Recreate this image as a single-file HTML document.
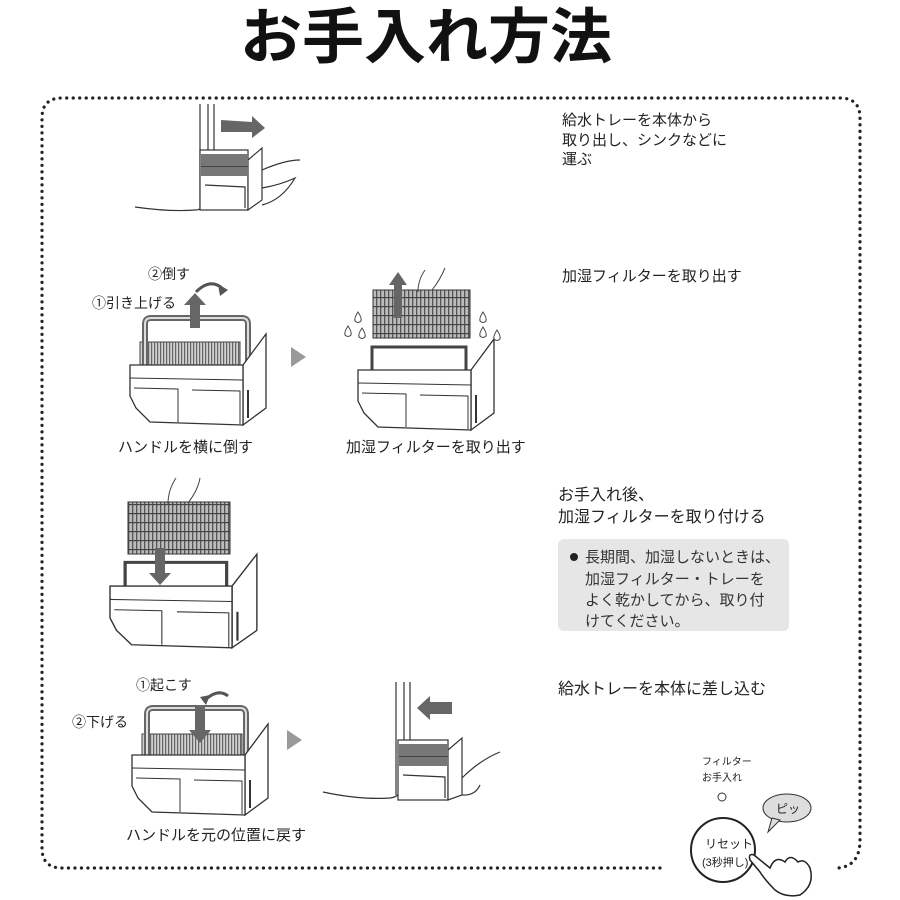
<!DOCTYPE html>
<html><head><meta charset="utf-8"><style>
html,body{margin:0;padding:0;background:#fff;width:900px;height:900px;overflow:hidden}
svg{display:block}
text{font-family:"Liberation Sans","Noto Sans CJK JP",sans-serif;fill:#222}
</style></head><body>
<svg width="900" height="900" viewBox="0 0 900 900" xmlns="http://www.w3.org/2000/svg">
<defs>
<pattern id="st" width="3" height="6" patternUnits="userSpaceOnUse">
<rect width="3" height="6" fill="#d0d0d0"/><rect width="1.2" height="6" fill="#666"/>
</pattern>
<pattern id="grid" width="4" height="9" patternUnits="userSpaceOnUse">
<rect width="4" height="9" fill="#bbb"/><rect width="1.3" height="9" fill="#555"/><rect width="4" height="1.2" fill="#444"/>
</pattern>
<g id="body">
<polygon points="113,35 136,4 136,78 113,95" fill="#fff" stroke="#333" stroke-width="1.3"/>
<line x1="118" y1="60" x2="118" y2="88" stroke="#333" stroke-width="2"/>
<path d="M0,35 L113,35 L113,95 L20,92 L6,78 L0,66 Z" fill="#fff" stroke="#333" stroke-width="1.3"/>
<line x1="0" y1="48" x2="113" y2="50" stroke="#333" stroke-width="1"/>
<path d="M4,58 L48,59 L48,92 M62,60 L110,61 L110,94" fill="none" stroke="#333" stroke-width="1"/>
</g>
<g id="drop"><path d="M0,0 Q-4,6 -3,9 Q0,12 3,9 Q4,6 0,0 Z" fill="#fff" stroke="#444" stroke-width="1"/></g>
</defs>

<text x="426" y="58" text-anchor="middle" font-size="60" font-weight="bold" style="fill:#111" textLength="372" lengthAdjust="spacingAndGlyphs">お手入れ方法</text>

<!-- dotted border -->
<path d="M660,868 L62,868 Q42,868 42,848 L42,118 Q42,98 62,98 L840,98 Q860,98 860,118 L860,840 Q860,866 838,868" fill="none" stroke="#222" stroke-width="3.2" stroke-dasharray="0.1 6.4" stroke-linecap="round"/>

<!-- step1 appliance -->
<g stroke="#333" stroke-width="1.2" fill="none">
<path d="M200,104 L200,207 M208,104 L208,150 M214,104 L214,150"/>
<path d="M135,207 Q170,212 195,210 Q205,210 205,198"/>
<rect x="200" y="150" width="48" height="60" fill="#fff"/>
<polygon points="248,160 262,148 262,200 248,210" fill="#fff"/>
<path d="M205,185 L245,187 L245,208 M262,170 Q285,160 300,160 M262,188 Q280,185 295,178 Q282,200 262,205"/>
</g>
<rect x="201" y="154" width="47" height="22" fill="#777"/>
<rect x="201" y="166" width="47" height="1" fill="#444"/>
<polygon points="221,120 252,122 252,116 265,128 252,138 252,132 221,132" fill="#666"/>

<text x="562" y="125" font-size="15">給水トレーを本体から</text>
<text x="562" y="145" font-size="15">取り出し、シンクなどに</text>
<text x="562" y="164" font-size="15">運ぶ</text>

<!-- tray 1 -->
<g transform="translate(130,330)">
<rect x="10" y="12" width="100" height="28" fill="url(#st)" stroke="#444"/>
<path d="M15,35 L15,-6 Q15,-12 21,-12 L112,-12 Q118,-12 118,-6 L118,35" fill="none" stroke="#666" stroke-width="6"/>
<path d="M15,35 L15,-6 Q15,-12 21,-12 L112,-12 Q118,-12 118,-6 L118,35" fill="none" stroke="#ddd" stroke-width="2"/>
<use href="#body"/>
</g>
<polygon points="190,328 190,305 184,305 195,293 206,305 200,305 200,328" fill="#666"/>
<path d="M196,292 Q210,278 222,288" fill="none" stroke="#555" stroke-width="3"/>
<polygon points="218,284 228,290 220,296" fill="#555"/>
<text x="148" y="279" font-size="14">②倒す</text>
<text x="92" y="308" font-size="14">①引き上げる</text>
<polygon points="291,347 306,357 291,367" fill="#999"/>
<text x="118" y="452" font-size="15">ハンドルを横に倒す</text>

<!-- tray 2 -->
<g transform="translate(358,335)">
<path d="M14,35 L14,12 L108,12 L108,35" fill="none" stroke="#444" stroke-width="3"/>
<use href="#body"/>
</g>
<rect x="373" y="290" width="97" height="48" fill="url(#grid)" stroke="#333"/>
<path d="M418,292 Q418,280 425,270 M432,290 Q440,280 445,268" fill="none" stroke="#444"/>
<polygon points="394,318 394,285 389,285 398,272 407,285 402,285 402,318" fill="#666"/>
<use href="#drop" x="358" y="312"/><use href="#drop" x="348" y="326"/><use href="#drop" x="362" y="328"/>
<use href="#drop" x="483" y="312"/><use href="#drop" x="483" y="327"/><use href="#drop" x="497" y="330"/>
<text x="346" y="452" font-size="15">加湿フィルターを取り出す</text>

<text x="562" y="281" font-size="15">加湿フィルターを取り出す</text>

<!-- tray 3 -->
<g transform="translate(110,550) scale(1.08,1.03)">
<path d="M14,35 L14,12 L108,12 L108,35" fill="none" stroke="#444" stroke-width="3"/>
<use href="#body"/>
</g>
<rect x="128" y="502" width="102" height="52" fill="url(#grid)" stroke="#333"/>
<path d="M168,504 Q168,490 176,478 M188,503 Q198,490 200,478" fill="none" stroke="#444"/>
<polygon points="155,548 155,573 149,573 160,585 171,573 165,573 165,548" fill="#666"/>

<text x="558" y="500" font-size="16">お手入れ後、</text>
<text x="558" y="522" font-size="16">加湿フィルターを取り付ける</text>
<rect x="558" y="539" width="231" height="92" rx="6" fill="#e6e6e6"/>
<circle cx="574" cy="557" r="4" fill="#222"/>
<text x="585" y="562" font-size="15" style="fill:#333">長期間、加湿しないときは、</text>
<text x="585" y="584" font-size="15" style="fill:#333">加湿フィルター・トレーを</text>
<text x="585" y="605" font-size="15" style="fill:#333">よく乾かしてから、取り付</text>
<text x="585" y="626" font-size="15" style="fill:#333">けてください。</text>

<!-- tray 4 -->
<g transform="translate(132,720)">
<rect x="10" y="14" width="100" height="28" fill="url(#st)" stroke="#444"/>
<path d="M15,35 L15,-6 Q15,-12 21,-12 L108,-12 Q114,-12 114,-6 L114,35" fill="none" stroke="#666" stroke-width="6"/>
<path d="M15,35 L15,-6 Q15,-12 21,-12 L108,-12 Q114,-12 114,-6 L114,35" fill="none" stroke="#ddd" stroke-width="2"/>
<use href="#body"/>
</g>
<polygon points="195,705 195,730 189,730 200,743 211,730 205,730 205,705" fill="#666"/>
<path d="M205,700 Q218,688 228,696" fill="none" stroke="#555" stroke-width="3"/>
<polygon points="200,697 210,695 206,705" fill="#555"/>
<text x="136" y="690" font-size="14">①起こす</text>
<text x="72" y="727" font-size="14">②下げる</text>
<polygon points="287,730 302,740 287,750" fill="#999"/>
<text x="126" y="840" font-size="15">ハンドルを元の位置に戻す</text>

<!-- step4 appliance -->
<g stroke="#333" stroke-width="1.2" fill="none">
<path d="M396,682 L396,795 M404,682 L404,740 M410,682 L410,740"/>
<path d="M323,792 Q360,800 390,798 Q400,797 401,788"/>
<rect x="398" y="740" width="50" height="60" fill="#fff"/>
<polygon points="448,750 462,738 462,795 448,800" fill="#fff"/>
<path d="M403,775 L445,777 L445,798 M462,778 Q480,760 500,752 M462,795 Q475,796 480,785"/>
</g>
<rect x="399" y="744" width="49" height="22" fill="#777"/>
<rect x="399" y="756" width="49" height="1" fill="#444"/>
<polygon points="452,702 430,702 430,696 417,708 430,720 430,714 452,714" fill="#666"/>

<text x="558" y="694" font-size="16">給水トレーを本体に差し込む</text>

<!-- reset button -->
<text x="702" y="765" font-size="10">フィルター</text>
<text x="702" y="781" font-size="10">お手入れ</text>
<circle cx="722" cy="797" r="4" fill="#fff" stroke="#333"/>
<ellipse cx="787" cy="808" rx="24" ry="14" fill="#ddd" stroke="#333"/>
<polygon points="772,818 768,832 780,820" fill="#ddd" stroke="#333"/>
<text x="776" y="813" font-size="12">ピッ</text>
<circle cx="723" cy="850" r="32" fill="#fff" stroke="#222" stroke-width="2"/>
<text x="705" y="848" font-size="12">リセット</text>
<text x="702" y="866" font-size="11">(3秒押し)</text>
<path d="M754,855 L770,868 Q775,855 785,862 Q790,853 798,862 Q805,858 810,868 Q815,885 800,895 Q785,898 775,890 Q765,880 760,872 L750,860 Q748,853 754,855 Z" fill="#fff" stroke="#222" stroke-width="1.5"/>
</svg>
</body></html>
